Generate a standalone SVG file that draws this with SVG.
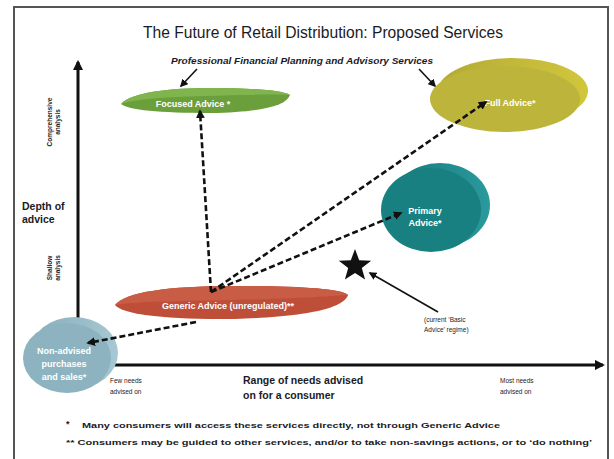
<svg xmlns="http://www.w3.org/2000/svg" width="614" height="459" viewBox="0 0 614 459">
  <style>
    .t { font-family: "Liberation Sans", Arial, sans-serif; fill: #1b1b24; }
    .w { font-family: "Liberation Sans", Arial, sans-serif; fill: #ffffff; font-size: 9px; font-weight: bold; text-anchor: middle; }
    .small { font-size: 6.5px; }
    .dash { stroke: #111; stroke-width: 2.6; stroke-dasharray: 6 3; fill: none; }
    .axis { stroke: #111; stroke-width: 3; fill: none; }
    .thin { stroke: #111; stroke-width: 1.6; fill: none; }
  </style>
  <defs>
    <marker id="head" viewBox="0 0 10 10" refX="8" refY="5" markerWidth="3.4" markerHeight="3.4" orient="auto">
      <path d="M0,0 L10,5 L0,10 Z" fill="#111"/>
    </marker>
    <marker id="axhead" viewBox="0 0 10 10" refX="8" refY="5" markerWidth="3.5" markerHeight="3.5" orient="auto">
      <path d="M0,0 L10,5 L0,10 Z" fill="#111"/>
    </marker>
    <marker id="thinhead" viewBox="0 0 10 10" refX="8" refY="5" markerWidth="5" markerHeight="5" orient="auto">
      <path d="M0,0 L10,5 L0,10 Z" fill="#111"/>
    </marker>
    <linearGradient id="fullRim" x1="0" y1="0" x2="1" y2="0">
      <stop offset="0" stop-color="#b3aa36"/>
      <stop offset="1" stop-color="#d1c63c"/>
    </linearGradient>
    <linearGradient id="tealRim" x1="0" y1="0" x2="1" y2="0">
      <stop offset="0" stop-color="#16787b"/>
      <stop offset="1" stop-color="#2a9a9c"/>
    </linearGradient>
    <linearGradient id="blueRim" x1="0" y1="0" x2="1" y2="0">
      <stop offset="0" stop-color="#86aebb"/>
      <stop offset="1" stop-color="#a7c8d2"/>
    </linearGradient>
  </defs>

  <rect width="614" height="459" fill="#ffffff"/>
  <!-- page frame -->
  <path d="M14,470 L14,7 L608,7 L608,470" fill="none" stroke="#555" stroke-width="2"/>

  <text class="t" x="323" y="38" font-size="16" text-anchor="middle" textLength="360" lengthAdjust="spacingAndGlyphs" fill="#2a2a36">The Future of Retail Distribution: Proposed Services</text>
  <text class="t" x="302" y="64" font-size="8.5" font-style="italic" font-weight="bold" text-anchor="middle" textLength="262" lengthAdjust="spacingAndGlyphs">Professional Financial Planning and Advisory Services</text>
  <line class="thin" x1="197" y1="69" x2="181" y2="86" marker-end="url(#thinhead)"/>
  <line class="thin" x1="419" y1="69" x2="435" y2="86" marker-end="url(#thinhead)"/>

  <!-- axes -->
  <g id="axes">
    <line class="axis" x1="78" y1="335" x2="78" y2="62" marker-end="url(#axhead)"/>
    <line class="axis" x1="110" y1="365" x2="603" y2="365" marker-end="url(#axhead)"/>
    <text class="t small" transform="translate(52,122) rotate(-90)" text-anchor="middle" font-weight="bold">Comprehensive</text>
    <text class="t small" transform="translate(60,122) rotate(-90)" text-anchor="middle" font-weight="bold">analysis</text>
    <text class="t small" transform="translate(52,268) rotate(-90)" text-anchor="middle" font-weight="bold">Shallow</text>
    <text class="t small" transform="translate(60,268) rotate(-90)" text-anchor="middle" font-weight="bold">analysis</text>
    <text class="t" x="22" y="210" font-size="10.5" font-weight="bold">Depth of</text>
    <text class="t" x="22" y="223" font-size="10.5" font-weight="bold">advice</text>
    <text class="t small" x="110" y="383">Few needs</text>
    <text class="t small" x="110" y="394">advised on</text>
    <text class="t" x="243" y="384" font-size="10.5" font-weight="bold">Range of needs advised</text>
    <text class="t" x="243" y="399" font-size="10.5" font-weight="bold">on for a consumer</text>
    <text class="t small" x="500" y="383">Most needs</text>
    <text class="t small" x="500" y="394">advised on</text>
  </g>

  <g id="focused">
    <path d="M121,104 C132,92 170,88 210,88 C250,88 282,90 290,95 C286,106 262,112 210,113 C160,113 128,110 121,104 Z" fill="#6a9f3b"/>
    <path d="M121,104 C132,92 170,88 210,88 C250,88 282,90 290,95 C270,94 240,95 205,96 C165,97 135,99 121,104 Z" fill="#80b44c"/>
    <text class="w" x="193" y="107">Focused Advice *</text>
  </g>

  <g id="full">
    <ellipse cx="513" cy="91" rx="75" ry="33" fill="url(#fullRim)"/>
    <ellipse cx="505" cy="99" rx="75" ry="33" fill="#bdb43b"/>
    <text class="w" x="510" y="106">Full Advice*</text>
  </g>

  <g id="primary">
    <ellipse cx="440" cy="205" rx="50" ry="42" fill="url(#tealRim)"/>
    <ellipse cx="431" cy="210" rx="50" ry="42" fill="#198082"/>
    <text class="w" x="425" y="214">Primary</text>
    <text class="w" x="425" y="226">Advice*</text>
  </g>

  <g id="generic">
    <path d="M115,305 C125,292 170,286 230,286 C290,286 340,288 348,295 C344,306 320,316 235,319 C165,320 122,314 115,305 Z" fill="#bf4e38"/>
    <path d="M115,305 C125,292 170,286 230,286 C290,286 340,288 348,295 C320,297 280,299 230,300 C170,301 130,302 115,305 Z" fill="#c85c45"/>
    <text class="w" x="228" y="309">Generic Advice (unregulated)**</text>
  </g>

  <g id="nonadvised">
    <ellipse cx="74" cy="353" rx="44" ry="36" fill="url(#blueRim)"/>
    <ellipse cx="67" cy="358" rx="44" ry="35" fill="#8cb3bf"/>
    <text class="w" x="64" y="354">Non-advised</text>
    <text class="w" x="64" y="367">purchases</text>
    <text class="w" x="64" y="380">and sales*</text>
  </g>

  <g id="basic">
    <path d="M355,249 L359.2,260.2 L371.2,260.7 L361.8,268.1 L365.1,279.6 L355,273 L344.9,279.6 L348.2,268.1 L338.8,260.7 L350.8,260.2 Z" fill="#111"/>
    <line class="thin" x1="438" y1="312" x2="370" y2="273" marker-end="url(#thinhead)"/>
    <text class="t small" x="424" y="322">(current ‘Basic</text>
    <text class="t small" x="424" y="332">Advice’ regime)</text>
  </g>

  <g id="connectors">
    <line class="dash" x1="211" y1="292" x2="200" y2="111" marker-end="url(#head)"/>
    <line class="dash" x1="211" y1="292" x2="486" y2="102" marker-end="url(#head)"/>
    <line class="dash" x1="211" y1="292" x2="401" y2="213" marker-end="url(#head)"/>
    <line class="dash" x1="196" y1="322" x2="88" y2="343" marker-end="url(#head)"/>
  </g>

  <g id="notes">
    <text class="t" x="66" y="427" font-size="9" font-weight="bold">*</text>
    <text class="t" x="82" y="428" font-size="8" font-weight="bold" textLength="418" lengthAdjust="spacingAndGlyphs">Many consumers will access these services directly, not through Generic Advice</text>
    <text class="t" x="66" y="445" font-size="8" font-weight="bold" textLength="526" lengthAdjust="spacingAndGlyphs">** Consumers may be guided to other services, and/or to take non-savings actions, or to ‘do nothing’</text>
  </g>
</svg>
